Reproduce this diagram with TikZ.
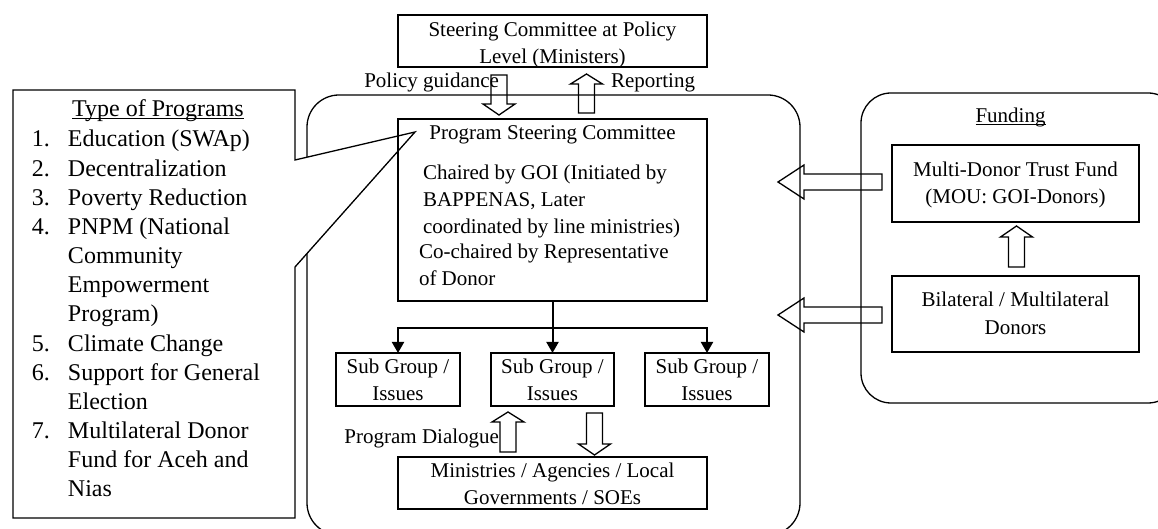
\documentclass[tikz,border=0pt]{standalone}
\usepackage{fontspec}
\setmainfont{Liberation Serif}
\usetikzlibrary{arrows.meta}

% outlined block arrow, vertical: centre x, tail y, head-base y, tip y
\newcommand{\vblock}[4]{%
  \draw[blockarrow] (#1-8,#2) -- (#1-8,#3) -- (#1-16,#3) -- (#1,#4)
    -- (#1+16,#3) -- (#1+8,#3) -- (#1+8,#2) -- cycle;}
% outlined block arrow, horizontal: centre y, tail x, head-base x, tip x
\newcommand{\hblock}[4]{%
  \draw[blockarrow] (#2,#1-8) -- (#3,#1-8) -- (#3,#1-17) -- (#4,#1)
    -- (#3,#1+17) -- (#3,#1+8) -- (#2,#1+8) -- cycle;}
% several lines whose baseline is the first line
\newcommand{\textrows}[2][c]{\begin{tabular}[t]{@{}#1@{}}#2\end{tabular}}
% underline set close to the baseline
\newcommand{\wordul}[1]{\setbox0=\hbox{#1}\rlap{\rule[-1.2pt]{\wd0}{0.5pt}}\box0}

\tikzset{
  box/.style={draw, line width=0.65pt, inner sep=0pt, outer sep=0pt},
  frame/.style={draw, line width=0.65pt},
  txt/.style={inner sep=0pt, outer sep=0pt, font=\fontsize{10.5}{13.5}\selectfont},
  listtxt/.style={inner sep=0pt, outer sep=0pt, font=\fontsize{12}{14.58}\selectfont},
  blockarrow/.style={line width=0.65pt, line join=miter},
  feed/.style={line width=1pt, -{Triangle[length=5.5pt,width=6pt]}},
}

\begin{document}
\begin{tikzpicture}[x=0.5pt, y=-0.5pt]
\useasboundingbox (0,0) rectangle (1158,529);
\fill[white] (0,0) rectangle (1158,529);
\clip (0,0) rectangle (1158,529);

% program area and funding area
\draw[frame, rounded corners=16pt] (307,95) rectangle (800,535);
\draw[frame, rounded corners=15pt] (861,93) rectangle (1178,403);

% callout listing the programme types
\draw[box, fill=white] (13,90) -- (295,90) -- (295,160) -- (415,132)
  -- (295,267) -- (295,518) -- (13,518) -- cycle;
\node[listtxt, anchor=base] (progtitle) at (158,117) {\wordul{Type of Programs}};
\node[listtxt, anchor=base west] (proglist) at (32,147) {\textrows[l]{%
  \makebox[18pt][l]{1.}Education (SWAp)\\
  \makebox[18pt][l]{2.}Decentralization\\
  \makebox[18pt][l]{3.}Poverty Reduction\\
  \makebox[18pt][l]{4.}PNPM (National\\
  \hspace*{18pt}Community\\
  \hspace*{18pt}Empowerment\\
  \hspace*{18pt}Program)\\
  \makebox[18pt][l]{5.}Climate Change\\
  \makebox[18pt][l]{6.}Support for General\\
  \hspace*{18pt}Election\\
  \makebox[18pt][l]{7.}Multilateral Donor\\
  \hspace*{18pt}Fund for Aceh and\\
  \hspace*{18pt}Nias}};

% boxes
\node[box, minimum width=154.5pt, minimum height=26pt] (policy) at (552.5,41) {};
\node[box, minimum width=154.5pt, minimum height=91pt] (psc) at (552.5,210) {};
\node[box, minimum width=62pt, minimum height=26.5pt] (sub1) at (398,379.5) {};
\node[box, minimum width=61.5pt, minimum height=26.5pt] (sub2) at (552.5,379.5) {};
\node[box, minimum width=62pt, minimum height=26.5pt] (sub3) at (707,379.5) {};
\node[box, minimum width=154.5pt, minimum height=26pt] (agencies) at (552.5,483) {};
\node[box, minimum width=123.5pt, minimum height=38.5pt] (mdtf) at (1015.5,183.5) {};
\node[box, minimum width=123.5pt, minimum height=38pt] (donors) at (1015.5,314) {};

% box texts
\node[txt, anchor=base] (policyT) at (552.5,37) {\textrows{Steering Committee at Policy\\Level (Ministers)}};
\node[txt, anchor=base] (pscT) at (552.5,140) {Program Steering Committee};
\node[txt, anchor=base west] (chairT) at (423,180) {\textrows[l]{Chaired by GOI (Initiated by\\BAPPENAS, Later\\coordinated by line ministries)}};
\node[txt, anchor=base west] (cochairT) at (419,259) {\textrows[l]{Co-chaired by Representative\\of Donor}};
\node[txt, anchor=base] (sub1T) at (398,374) {\textrows{Sub Group /\\Issues}};
\node[txt, anchor=base] (sub2T) at (552.5,374) {\textrows{Sub Group /\\Issues}};
\node[txt, anchor=base] (sub3T) at (707,374) {\textrows{Sub Group /\\Issues}};
\node[txt, anchor=base] (agenciesT) at (552.5,478) {\textrows{Ministries / Agencies / Local\\Governments / SOEs}};
\node[txt, anchor=base] (fundingT) at (1010.5,123) {\wordul{Funding}};
\node[txt, anchor=base] (mdtfT) at (1015.5,177) {\textrows{Multi-Donor Trust Fund\\(MOU: GOI-Donors)}};
\node[txt, anchor=base] (donorsT) at (1015.5,307) {\textrows{Bilateral / Multilateral\\Donors}};

% arrow labels
\node[txt, anchor=base east] (guidT) at (499,88) {Policy guidance};
\node[txt, anchor=base west] (repT) at (611,88) {Reporting};
\node[txt, anchor=base east] (dialT) at (499,444) {Program Dialogue};

% block arrows
\vblock{499}{75}{104}{115}
\vblock{586.5}{113}{84}{74}
\vblock{508}{452}{422}{412}
\vblock{594.5}{413}{444}{455}
\vblock{1016.5}{267}{237}{226}
\hblock{182}{882}{804}{778}
\hblock{315}{882}{804}{778}

% committee to sub groups
\coordinate (fork) at (552.5,328);
\draw[feed] (psc.south) -- (sub2.north);
\draw[feed] (fork) -| (sub1.north);
\draw[feed] (fork) -| (sub3.north);
\end{tikzpicture}
\end{document}
